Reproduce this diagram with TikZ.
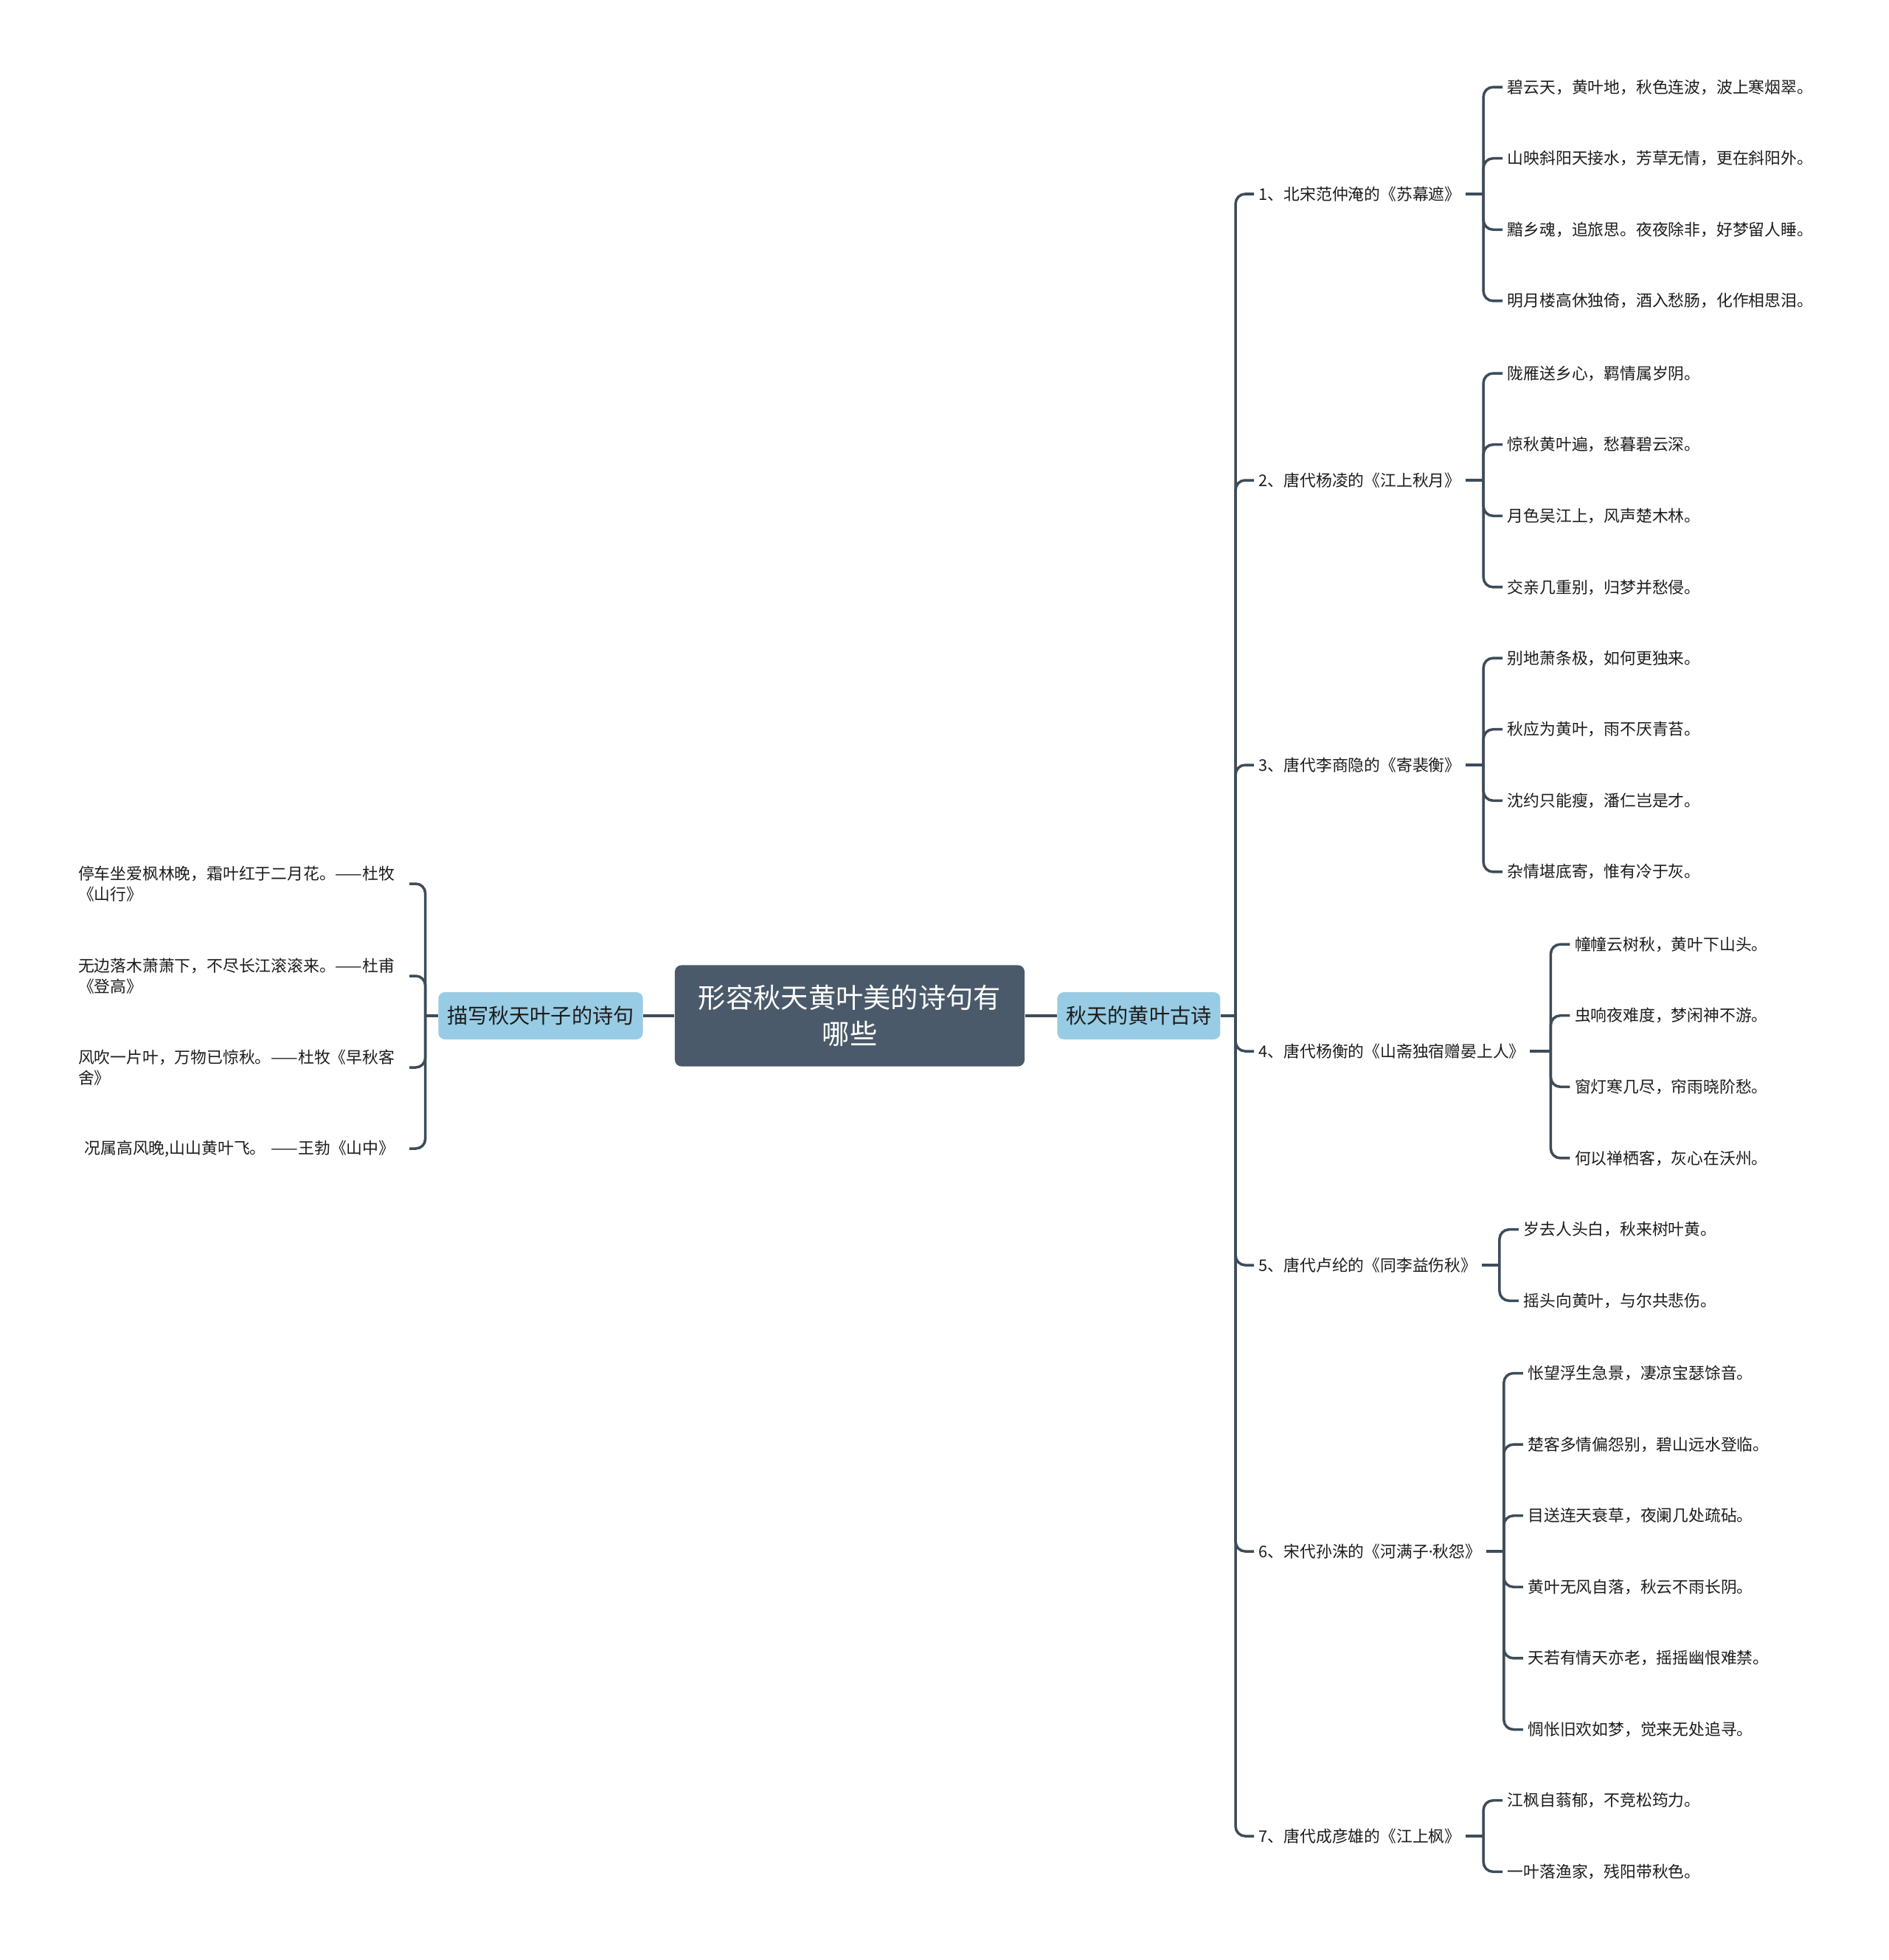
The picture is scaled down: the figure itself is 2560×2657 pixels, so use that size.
\documentclass[tikz,border=0pt]{standalone}
\usepackage{fontspec}
\setmainfont{Noto Sans CJK SC}
\newfontfamily\latinfont{Noto Sans}
\usepackage{xcolor}
\usetikzlibrary{positioning,calc}
\definecolor{slate}{HTML}{4A5A6A}
\definecolor{skyblue}{HTML}{98CCE4}
\definecolor{wiregrey}{HTML}{3E4C59}
\definecolor{inkblack}{HTML}{1C1C1C}

\begin{document}
\begin{tikzpicture}[
  x=0.01cm, y=-0.01cm,
  root/.style={fill=slate, text=white, rounded corners=2.5pt, align=center,
               inner xsep=0.32cm, minimum height=1.37cm,
               font=\fontsize{10.6}{14}\selectfont},
  topic/.style={fill=skyblue, text=inkblack, rounded corners=2.5pt,
                inner xsep=0.12cm, minimum height=0.64cm,
                font=\fontsize{8}{10}\selectfont},
  poem/.style={anchor=west, inner xsep=0.06cm, text=inkblack,
               font=\fontsize{6.2}{7.8}\selectfont},
  verse/.style={poem},
  leafq/.style={anchor=east, text width=4.42cm, align=left, inner xsep=0.06cm,
                text=inkblack, font=\fontsize{6.2}{7.8}\selectfont},
  wire/.style={draw=wiregrey, line width=1pt},
  curl/.style={wire, rounded corners=0.13cm}]
\useasboundingbox (0,0) rectangle (2560,2657);

% centre and the two topics
\node[root] (root) at (1152,1377) {形容秋天黄叶美的诗句有\\哪些};
\node[topic, right=0.43cm of root] (poems) {秋天的黄叶古诗};
\node[topic, left=0.42cm of root] (leaves) {描写秋天叶子的诗句};
\draw[wire] (root) -- (poems);
\draw[wire] (root) -- (leaves);

% right: seven poems
\draw[wire] (poems.east) -- ++(20,0) coordinate (jp);
\foreach \y/\t [count=\i] in {263/{1、北宋范仲淹的《苏幕遮》}, 651/{2、唐代杨凌的《江上秋月》},
    1037/{3、唐代李商隐的《寄裴衡》}, 1425/{4、唐代杨衡的《山斋独宿赠晏上人》},
    1715/{5、唐代卢纶的《同李益伤秋》}, 2103/{6、宋代孙洙的《河满子{\latinfont ·}秋怨》},
    2489/{7、唐代成彦雄的《江上枫》}} {
  \node[poem] (c\i) at (1700,\y) {\t};
  \draw[curl] (jp) |- (c\i.west);
}

\draw[wire] (c1.east) -- ++(24,0) coordinate (j1);
\foreach \t [count=\k] in {碧云天，黄叶地，秋色连波，波上寒烟翠。, 山映斜阳天接水，芳草无情，更在斜阳外。,
    黯乡魂，追旅思。夜夜除非，好梦留人睡。, 明月楼高休独倚，酒入愁肠，化作相思泪。} {
  \node[verse] (v1\k) at ($(j1)+(26,{(\k-2.5)*96.6})$) {\t};
  \draw[curl] (j1) |- (v1\k.west);
}

\draw[wire] (c2.east) -- ++(24,0) coordinate (j2);
\foreach \t [count=\k] in {陇雁送乡心，羁情属岁阴。, 惊秋黄叶遍，愁暮碧云深。,
    月色吴江上，风声楚木林。, 交亲几重别，归梦并愁侵。} {
  \node[verse] (v2\k) at ($(j2)+(26,{(\k-2.5)*96.6})$) {\t};
  \draw[curl] (j2) |- (v2\k.west);
}

\draw[wire] (c3.east) -- ++(24,0) coordinate (j3);
\foreach \t [count=\k] in {别地萧条极，如何更独来。, 秋应为黄叶，雨不厌青苔。,
    沈约只能瘦，潘仁岂是才。, 杂情堪底寄，惟有冷于灰。} {
  \node[verse] (v3\k) at ($(j3)+(26,{(\k-2.5)*96.6})$) {\t};
  \draw[curl] (j3) |- (v3\k.west);
}

\draw[wire] (c4.east) -- ++(28,0) coordinate (j4);
\foreach \t [count=\k] in {幢幢云树秋，黄叶下山头。, 虫响夜难度，梦闲神不游。,
    窗灯寒几尽，帘雨晓阶愁。, 何以禅栖客，灰心在沃州。} {
  \node[verse] (v4\k) at ($(j4)+(26,{(\k-2.5)*96.6})$) {\t};
  \draw[curl] (j4) |- (v4\k.west);
}

\draw[wire] (c5.east) -- ++(24,0) coordinate (j5);
\foreach \t [count=\k] in {岁去人头白，秋来树叶黄。, 摇头向黄叶，与尔共悲伤。} {
  \node[verse] (v5\k) at ($(j5)+(26,{(\k-1.5)*96.6})$) {\t};
  \draw[curl] (j5) |- (v5\k.west);
}

\draw[wire] (c6.east) -- ++(24,0) coordinate (j6);
\foreach \t [count=\k] in {怅望浮生急景，凄凉宝瑟馀音。, 楚客多情偏怨别，碧山远水登临。,
    目送连天衰草，夜阑几处疏砧。, 黄叶无风自落，秋云不雨长阴。,
    天若有情天亦老，摇摇幽恨难禁。, 惆怅旧欢如梦，觉来无处追寻。} {
  \node[verse] (v6\k) at ($(j6)+(26,{(\k-3.5)*96.6})$) {\t};
  \draw[curl] (j6) |- (v6\k.west);
}

\draw[wire] (c7.east) -- ++(24,0) coordinate (j7);
\foreach \t [count=\k] in {江枫自蓊郁，不竞松筠力。, 一叶落渔家，残阳带秋色。} {
  \node[verse] (v7\k) at ($(j7)+(26,{(\k-1.5)*96.6})$) {\t};
  \draw[curl] (j7) |- (v7\k.west);
}

% left: four quotes
\draw[wire] (leaves.west) -- ++(-17,0) coordinate (jl);
\node[leafq] (q1) at (555,1198) {停车坐爱枫林晚，霜叶红于二月花。——杜牧\\《山行》};
\node[leafq] (q2) at (555,1323) {无边落木萧萧下，不尽长江滚滚来。——杜甫\\《登高》};
\node[leafq] (q3) at (555,1447) {风吹一片叶，万物已惊秋。——杜牧《早秋客\\舍》};
\node[leafq] (q4) at (555,1557) {\hspace*{0.4em}况属高风晚,山山黄叶飞。 ——王勃《山中》};
\foreach \i in {1,...,4}
  \draw[curl] (jl) |- (q\i.east);
\end{tikzpicture}
\end{document}
